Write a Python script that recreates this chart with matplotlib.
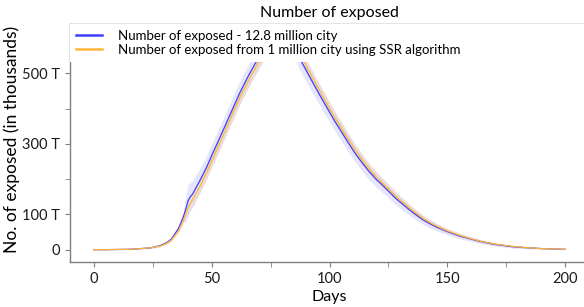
import matplotlib
matplotlib.use("Agg")
import matplotlib.pyplot as plt
import numpy as np

days = [0, 5, 10, 15, 20, 24, 28, 31, 33, 36, 38, 39, 40, 41, 42, 45, 48, 50, 53, 56,
        59, 62, 65, 68, 70, 73, 76, 79, 82, 84, 86, 87, 90, 93, 96, 99, 102, 105, 108, 111,
        114, 117, 120, 122, 125, 128, 131, 135, 140, 145, 150, 155, 160, 164, 170, 178, 185, 190, 200]

exposed_big = [0, 0, 0.5, 1, 3, 5, 11, 20, 30, 60, 92, 113, 138, 150, 158, 195, 235, 266, 310, 355,
               400, 445, 485, 522, 545, 580, 608, 625, 618, 600, 565, 547, 510, 473, 437, 402, 367, 335, 303, 272,
               245, 220, 198, 186, 166, 146, 129, 107, 83, 65, 51, 39, 30, 23, 15, 8, 5, 3, 1]

exposed_ssr = [0, 0, 0.5, 1, 3, 5, 10, 18, 27, 53, 82, 100, 118, 132, 142, 178, 220, 250, 295, 340,
               386, 431, 471, 508, 532, 570, 600, 620, 620, 605, 578, 562, 523, 485, 449, 413, 378, 345, 313, 282,
               254, 228, 205, 192, 172, 152, 135, 112, 87, 68, 53, 41, 31, 24, 16, 9, 5, 3, 1]

spread_big = [0, 0, 0.5, 1, 1, 2, 3, 4, 5, 8, 14, 35, 45, 40, 38, 35, 34, 33, 33, 33,
              33, 33, 33, 33, 33, 33, 33, 33, 33, 33, 33, 33, 32, 31, 30, 29, 28, 27, 26, 25,
              24, 23, 22, 21, 20, 19, 17, 15, 13, 11, 9, 8, 7, 6, 5, 4, 3, 2, 1]

spread_ssr = [0, 0, 0.5, 1, 1, 2, 3, 4, 5, 7, 9, 12, 15, 16, 17, 18, 18, 18, 18, 18,
              18, 18, 18, 18, 18, 18, 18, 18, 18, 18, 18, 18, 18, 18, 18, 18, 17, 17, 16, 16,
              15, 15, 14, 13, 12, 11, 10, 9, 8, 7, 6, 5, 4, 4, 3, 3, 2, 2, 1]

yticks = [0, 100, 300, 500]
yticklabels = ["0", "100 T", "300 T", "500 T"]
xticks = [0, 50, 100, 150, 200]

plt.rcParams['font.family'] = ['Lato', 'DejaVu Sans']

d = np.array(days)
b = np.array(exposed_big)
s = np.array(exposed_ssr)
sb = np.array(spread_big)
ss = np.array(spread_ssr)

fig = plt.figure(figsize=(5.84, 3.07), dpi=100)
ax = fig.add_axes([70/584, 45/307, 519/584, 238/307])

ax.fill_between(d, b - sb, b + sb, color='#5555ee', alpha=0.15, linewidth=0)
ax.fill_between(d, s - ss, s + ss, color='#ffa500', alpha=0.12, linewidth=0)
ax.plot(d, b, color='#3d3dff', lw=0.9, label='Number of exposed - 12.8 million city')
ax.plot(d, s, color='#ffb53a', lw=0.9, label='Number of exposed from 1 million city using SSR algorithm')

ax.set_xlim(-10, 210)
ax.set_ylim(-35, 640)
ax.set_xticks(xticks)
ax.set_xticks([25, 75, 125, 175], minor=True)
ax.set_yticks(yticks)
ax.set_yticklabels(yticklabels)
ax.set_yticks([200, 400], minor=True)

for sp in ['left', 'bottom', 'top']:
    ax.spines[sp].set_color('#7f7f7f')
    ax.spines[sp].set_linewidth(1.0)
ax.spines['right'].set_visible(False)
ax.tick_params(which='both', colors='#7f7f7f', labelcolor='#1a1a1a', labelsize=10.5,
               length=3.5, pad=3.5)

ax.set_title('Number of exposed', fontsize=11.5, pad=5)
ax.set_xlabel('Days', fontsize=11.5, labelpad=3)
ax.set_ylabel('No. of exposed (in thousands)', fontsize=12.5)
ax.yaxis.set_label_coords(-50/519, 0.515)

leg = ax.legend(loc='upper left', bbox_to_anchor=(0, 1, 1, 0), mode='expand',
                borderaxespad=0, frameon=True, fancybox=False, fontsize=9.5,
                handlelength=2.0, handletextpad=1.2, labelspacing=0.15, borderpad=0.45)
leg.get_frame().set_facecolor('white')
leg.get_frame().set_edgecolor('none')
leg.get_frame().set_alpha(1)
for line in leg.get_lines():
    line.set_linewidth(1.8)

fig.savefig('out.png', dpi=100)
